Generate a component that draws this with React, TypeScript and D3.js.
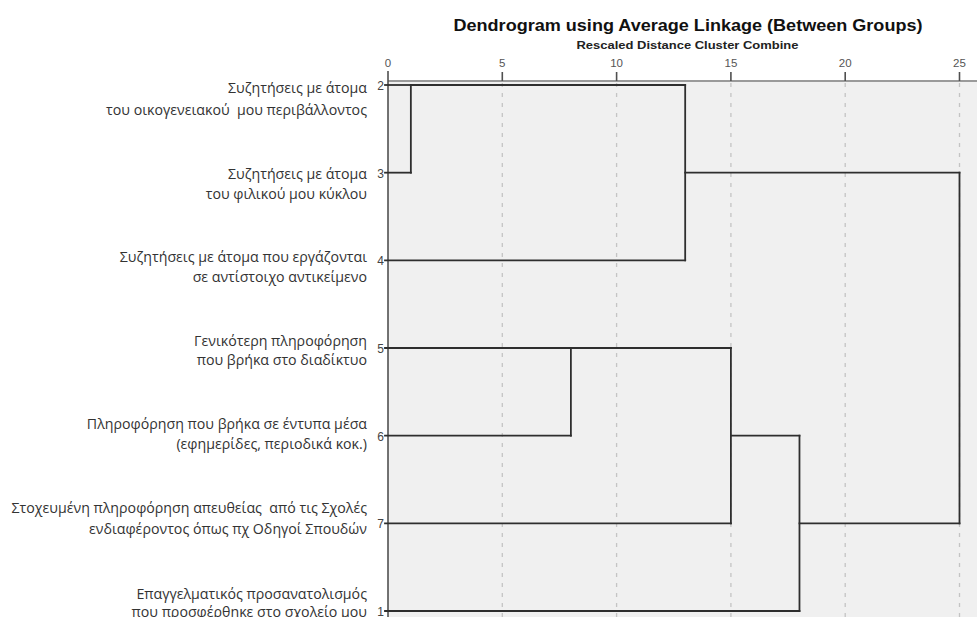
import React from "react";
import * as d3 from "d3";

// ---- data ----
const leafIds = ["2", "3", "4", "5", "6", "7", "1"];
const leafLabels: string[][] = [
  ["Συζητήσεις με άτομα", "του οικογενειακού  μου περιβάλλοντος"],
  ["Συζητήσεις με άτομα", "του φιλικού μου κύκλου"],
  ["Συζητήσεις με άτομα που εργάζονται", "σε αντίστοιχο αντικείμενο"],
  ["Γενικότερη πληροφόρηση", "που βρήκα στο διαδίκτυο"],
  ["Πληροφόρηση που βρήκα σε έντυπα μέσα", "(εφημερίδες, περιοδικά κοκ.)"],
  ["Στοχευμένη πληροφόρηση απευθείας  από τις Σχολές", "ενδιαφέροντος όπως πχ Οδηγοί Σπουδών"],
  ["Επαγγελματικός προσανατολισμός", "που προσφέρθηκε στο σχολείο μου"],
];
// merge steps: cluster cK joins mergeLeft[K] and mergeRight[K] at mergeDistance[K]
const mergeLeft = ["2", "c0", "5", "c2", "c3", "c1"];
const mergeRight = ["3", "4", "6", "7", "1", "c4"];
const mergeDistance = [1, 13, 8, 15, 18, 25];
const xTicks = [0, 5, 10, 15, 20, 25];

const titleText = "Dendrogram using Average Linkage (Between Groups)";
const subtitleText = "Rescaled Distance Cluster Combine";

// ---- layout (styling only) ----
const W = 977;
const H = 617;
const labelDy: number[][] = [
  [2, 24],
  [1, 21],
  [-4, 16.5],
  [-8, 11],
  [-12, 8],
  [-15.5, 5],
  [-17.7, 0.7],
];

export default function App() {
  const x = d3.scaleLinear().domain([0, 25]).range([388, 959.5]);
  const y = d3.scalePoint<number>().domain(d3.range(leafIds.length)).range([85, 611]);

  // build node table
  const nodeY: Record<string, number> = {};
  const nodeD: Record<string, number> = {};
  leafIds.forEach((id, i) => {
    nodeY[id] = i;
    nodeD[id] = 0;
  });
  mergeDistance.forEach((d, k) => {
    const ya = nodeY[mergeLeft[k]];
    const yb = nodeY[mergeRight[k]];
    nodeY["c" + k] = Math.floor((ya + yb) / 2);
    nodeD["c" + k] = d;
  });
  const parentD: Record<string, number> = {};
  mergeDistance.forEach((d, k) => {
    parentD[mergeLeft[k]] = d;
    parentD[mergeRight[k]] = d;
  });

  const horiz = Object.keys(parentD).map((id) => ({
    id,
    x1: id.startsWith("c") ? x(nodeD[id]) : x(0) - 3,
    x2: x(parentD[id]),
    y: y(nodeY[id]) as number,
  }));
  const vert = mergeDistance.map((d, k) => ({
    x: x(d),
    y1: y(nodeY[mergeLeft[k]]) as number,
    y2: y(nodeY[mergeRight[k]]) as number,
  }));

  const axisY = 81;
  const lineColor = "#2e2e2e";

  return (
    <svg
      width={W}
      height={H}
      style={{ position: "absolute", left: 0, top: 0, background: "#ffffff" }}
    >
      {/* plot background */}
      <rect x={x(0)} y={axisY} width={W - x(0)} height={H - axisY} fill="#f0f0f0" />

      {/* grid lines */}
      {xTicks.slice(1).map((t) => (
        <line
          key={"g" + t}
          x1={x(t)}
          x2={x(t)}
          y1={axisY + 2}
          y2={H}
          stroke="#c4c4c4"
          strokeWidth={1.3}
          strokeDasharray="4,6"
        />
      ))}

      {/* axis */}
      <line x1={x(0)} x2={W} y1={axisY} y2={axisY} stroke="#9a9a9a" strokeWidth={2} />
      <line x1={x(0)} x2={x(0)} y1={71} y2={H} stroke="#505050" strokeWidth={1.6} />
      {xTicks.slice(1).map((t) => (
        <line key={"t" + t} x1={x(t)} x2={x(t)} y1={72} y2={axisY} stroke="#505050" strokeWidth={1.6} />
      ))}
      {xTicks.map((t) => (
        <text
          key={"tl" + t}
          x={x(t)}
          y={67}
          textAnchor="middle"
          fontFamily="Liberation Sans, Arial, sans-serif"
          fontSize={11.5}
          fill="#555"
        >
          {t}
        </text>
      ))}

      {/* title */}
      <text
        x={688}
        y={31}
        textAnchor="middle"
        fontFamily="Liberation Sans, Arial, sans-serif"
        fontWeight="bold"
        fontSize={17}
        fill="#111"
        textLength={469}
        lengthAdjust="spacingAndGlyphs"
      >
        {titleText}
      </text>
      <text
        x={687.5}
        y={49}
        textAnchor="middle"
        fontFamily="Liberation Sans, Arial, sans-serif"
        fontWeight="bold"
        fontSize={11}
        fill="#222"
        textLength={222}
        lengthAdjust="spacingAndGlyphs"
      >
        {subtitleText}
      </text>

      {/* dendrogram links */}
      {horiz.map((h) => (
        <line
          key={"h" + h.id}
          x1={h.x1}
          x2={h.x2}
          y1={h.y}
          y2={h.y}
          stroke={lineColor}
          strokeWidth={1.8}
          strokeLinecap="square"
        />
      ))}
      {vert.map((v, k) => (
        <line
          key={"v" + k}
          x1={v.x}
          x2={v.x}
          y1={v.y1}
          y2={v.y2}
          stroke={lineColor}
          strokeWidth={1.8}
          strokeLinecap="square"
        />
      ))}

      {/* leaf numbers */}
      {leafIds.map((id, i) => (
        <text
          key={"n" + id}
          x={384}
          y={(y(i) as number) + 1}
          textAnchor="end"
          dominantBaseline="central"
          fontFamily="Liberation Sans, Arial, sans-serif"
          fontSize={12}
          fill="#444"
        >
          {id}
        </text>
      ))}

      {/* leaf labels */}
      {leafLabels.map((lines, i) => (
        <g key={"l" + i}>
          {lines.map((ln, j) => (
            <text
              key={j}
              x={367}
              y={(y(i) as number) + labelDy[i][j]}
              textAnchor="end"
              dominantBaseline="central"
              fontFamily="Open Sans, Noto Sans, sans-serif"
              fontSize={14.2}
              fill="#333"
              style={{ whiteSpace: "pre" }}
            >
              {ln}
            </text>
          ))}
        </g>
      ))}
    </svg>
  );
}
